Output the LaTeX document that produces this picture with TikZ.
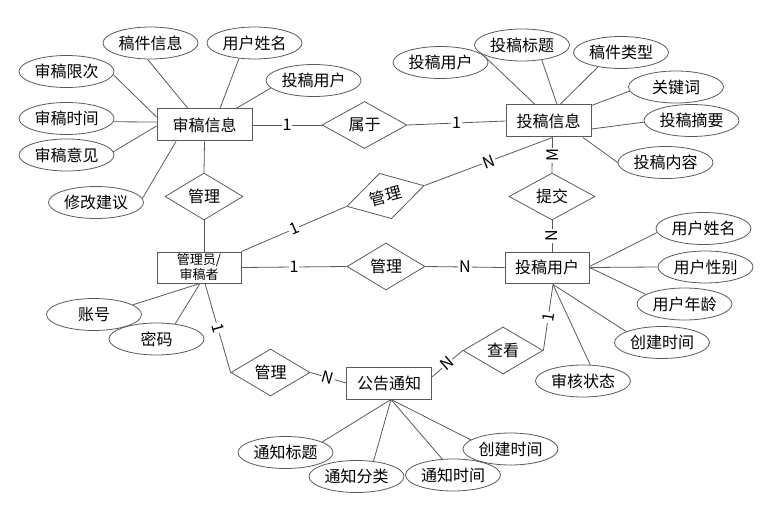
\documentclass[tikz,border=0pt]{standalone}
\usepackage{fontspec}
\setmainfont{Noto Sans CJK SC}
\usetikzlibrary{shapes.geometric}
\definecolor{linec}{HTML}{5A5A5A}
\begin{document}
\begin{tikzpicture}[x=1pt,y=-1pt,
  every node/.style={font=\fontsize{16}{18}\selectfont, text=black},
  ent/.style={draw=linec, line width=1pt, rectangle, minimum width=85pt, minimum height=32pt, inner sep=0pt},
  attr/.style={draw=linec, line width=0.8pt, ellipse, minimum width=95pt, minimum height=32pt, inner sep=0pt},
  rel/.style={draw=linec, line width=0.8pt, diamond, aspect=1.7, minimum width=80pt, minimum height=47pt, inner sep=0pt},
  conn/.style={draw=linec, line width=0.8pt},
  card/.style={font=\fontsize{16}{18}\selectfont, inner sep=1pt, fill=white},
]
\useasboundingbox (0,0) rectangle (769,508);

% entities
\node[ent, minimum width=95pt] (sx) at (204.5,125) {审稿信息};
\node[ent] (tx) at (548.5,121) {投稿信息};
\node[ent, minimum width=84pt, minimum height=31pt, font=\fontsize{13}{15}\selectfont, align=center] (ad) at (199,267.5) {管理员/\\审稿者};
\node[ent, minimum width=84pt, minimum height=31pt] (tg) at (547,267.5) {投稿用户};
\node[ent] (gz) at (389,383) {公告通知};

% relations
\node[rel, minimum width=85pt] (sy) at (364.5,125) {属于};
\node[rel, minimum width=78pt] (gl1) at (204,196.5) {管理};
\node[rel, rotate=15] (gl2) at (385.5,196) {管理};
\node[rel, minimum width=86pt] (tj) at (552,196.5) {提交};
\node[rel, minimum width=78pt] (gl3) at (386,266.5) {管理};
\node[rel, minimum width=79pt] (gl4) at (270.5,372.5) {管理};
\node[rel] (ck) at (503,350.5) {查看};

% attributes
\node[attr] (a1) at (150.5,43) {稿件信息};
\node[attr] (a2) at (254.5,43) {用户姓名};
\node[attr] (a3) at (66.5,71.5) {审稿限次};
\node[attr] (a4) at (313.5,80.5) {投稿用户};
\node[attr] (a5) at (66.5,118.5) {审稿时间};
\node[attr] (a6) at (66.5,155) {审稿意见};
\node[attr] (a7) at (96,202.5) {修改建议};
\node[attr] (b1) at (440.5,62.5) {投稿用户};
\node[attr] (b2) at (522,45) {投稿标题};
\node[attr] (b3) at (621,52.5) {稿件类型};
\node[attr] (b4) at (676,87) {关键词};
\node[attr] (b5) at (691.5,120.5) {投稿摘要};
\node[attr] (b6) at (665.5,162.5) {投稿内容};
\node[attr] (c1) at (703.5,228.5) {用户姓名};
\node[attr] (c2) at (705.5,267) {用户性别};
\node[attr] (c3) at (684.5,304) {用户年龄};
\node[attr] (c4) at (662,342.5) {创建时间};
\node[attr] (c5) at (583,381) {审核状态};
\node[attr] (d1) at (94,314.5) {账号};
\node[attr] (d2) at (156.5,339) {密码};
\node[attr] (e1) at (285.5,452.5) {通知标题};
\node[attr] (e2) at (356.5,476.5) {通知分类};
\node[attr] (e3) at (453,475) {通知时间};
\node[attr] (e4) at (510.5,449) {创建时间};

% 审稿信息 attributes
\draw[conn] ([xshift=-16.5pt]sx.north) -- (a1.-100);
\draw[conn] ([xshift=15.5pt]sx.north) -- (a2.-135);
\draw[conn] ([xshift=31.5pt]sx.north) -- (a4.-170);
\draw[conn] ([yshift=8pt]sx.west) -- (a3.-4);
\draw[conn] ([yshift=3pt]sx.west) -- (a5.-4);
\draw[conn] ([yshift=-1pt]sx.west) -- (a6.4);
\draw[conn] ([xshift=-28.5pt]sx.south) -- (a7.5);
\draw[conn] (sx.south) -- (gl1.north);
\draw[conn] (sx.east) -- node[card]{1} (sy.west);
\draw[conn] (sy.east) -- node[card]{1} (tx.west);

% 投稿信息 attributes
\draw[conn] ([xshift=-13.5pt]tx.north) -- (b1.10);
\draw[conn] ([xshift=8.5pt]tx.north) -- (b2.-37);
\draw[conn] ([xshift=11.5pt]tx.north) -- (b3.-148);
\draw[conn] ([yshift=-1pt]tx.north east) -- (b4.185);
\draw[conn] ([yshift=-8pt]tx.east) -- (b5.182);
\draw[conn] ([xshift=34.5pt]tx.south) -- (b6.180);
\draw[conn] ([xshift=4pt]tx.south) -- node[card, rotate=90]{M} (tj.north);
\draw[conn] (gl2.east) -- node[card, sloped]{N} ([xshift=4pt]tx.south);

% 管理员
\draw[conn] (ad.north east) -- node[card, sloped]{1} (gl2.west);
\draw[conn] ([xshift=5pt]ad.north) -- (gl1.south);
\draw[conn] (ad.east) -- node[card]{1} (gl3.west);
\draw[conn] (gl3.east) -- node[card]{N} (tg.west);
\draw[conn] (tj.south) -- node[card, rotate=90]{N} ([xshift=5pt]tg.north);
\draw[conn] ([xshift=1pt]ad.south) -- (d1.14);
\draw[conn] ([xshift=1pt]ad.south) -- (d2.39);
\draw[conn] ([xshift=6pt]ad.south) -- node[card, sloped]{1} (gl4.west);
\draw[conn] (gl4.east) -- node[card, sloped]{N} (gz.west);

% 投稿用户 attributes
\draw[conn] ([yshift=1pt]tg.east) -- (c1.185);
\draw[conn] (tg.east) -- (c2.180);
\draw[conn] (tg.east) -- (c3.166);
\draw[conn] ([xshift=6pt,yshift=-1pt]tg.south) -- (c4.163);
\draw[conn] ([xshift=6pt,yshift=-1pt]tg.south) -- (c5.66);
\draw[conn] ([xshift=6pt,yshift=-1pt]tg.south) -- node[card, sloped]{1} (ck.east);
\draw[conn] (ck.west) -- node[card, sloped]{N} ([yshift=6pt]gz.east);

% 公告通知 attributes
\draw[conn] ([xshift=2pt]gz.south) -- (e1.16);
\draw[conn] ([xshift=2pt]gz.south) -- (e2.42);
\draw[conn] ([xshift=2pt]gz.south) -- (e3.124);
\draw[conn] ([xshift=2pt]gz.south) -- (e4.167);
\end{tikzpicture}
\end{document}
